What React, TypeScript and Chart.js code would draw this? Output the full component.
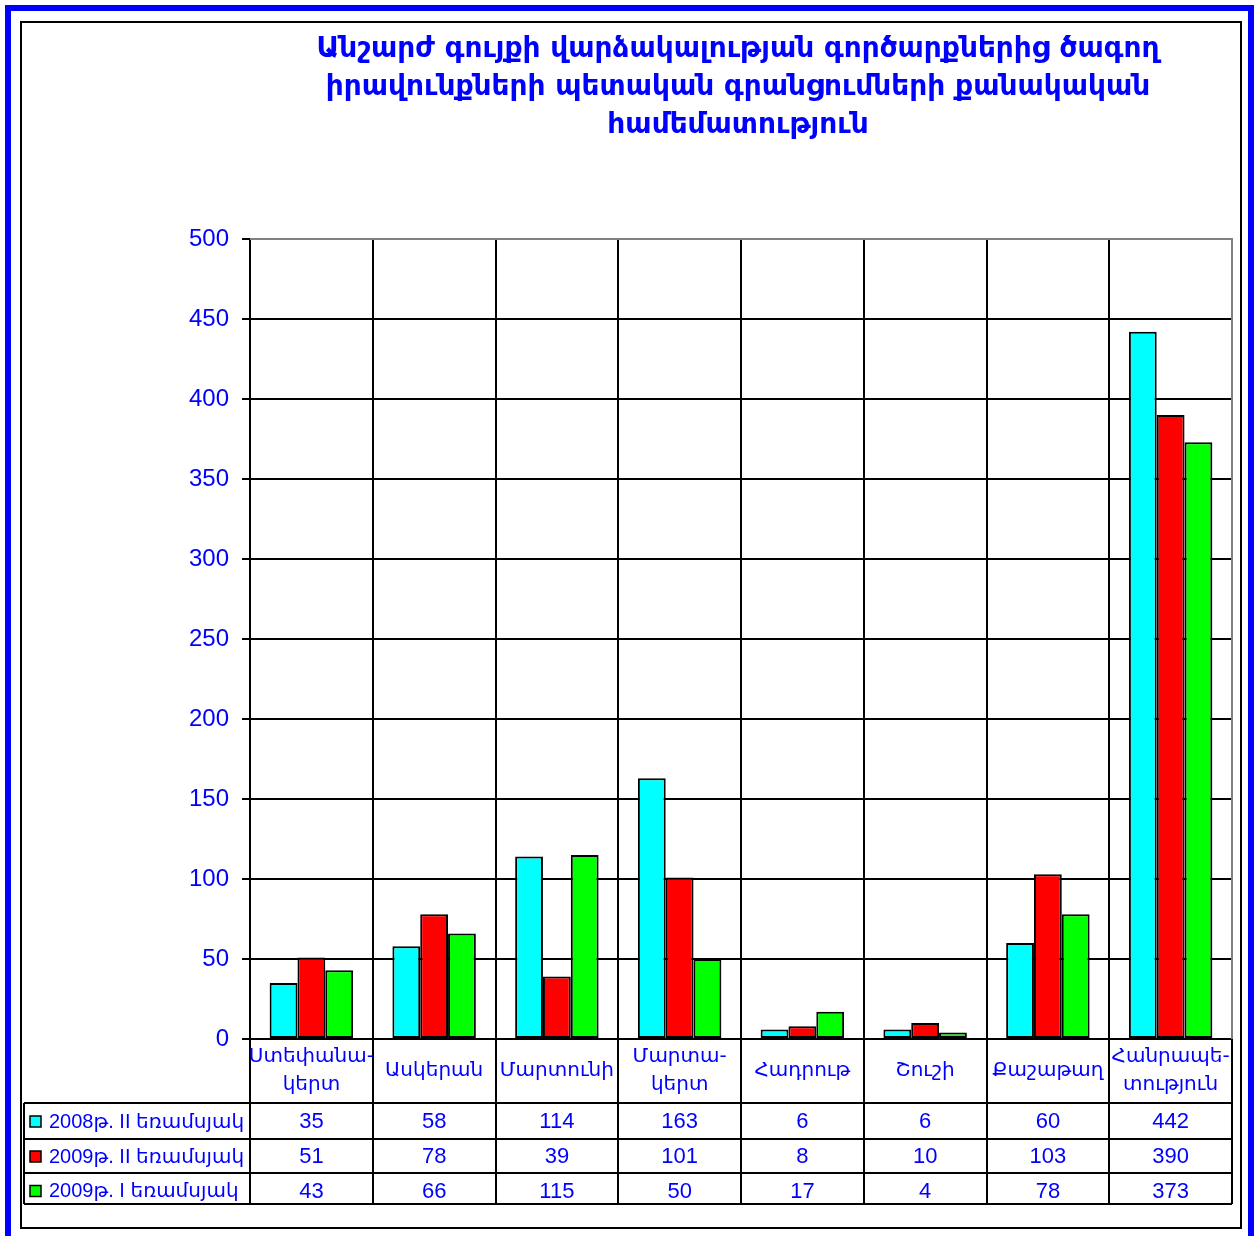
import React, { useEffect, useRef } from "react";
import { Chart, registerables } from "chart.js";

Chart.register(...registerables);

const titleLines = [
  "Անշարժ գույքի վարձակալության գործարքներից ծագող",
  "իրավունքների պետական գրանցումների քանակական",
  "համեմատություն",
];

const categories: string[][] = [
  ["Ստեփանա-", "կերտ"],
  ["Ասկերան"],
  ["Մարտունի"],
  ["Մարտա-", "կերտ"],
  ["Հադրութ"],
  ["Շուշի"],
  ["Քաշաթաղ"],
  ["Հանրապե-", "տություն"],
];

const seriesNames = ["2008թ. II եռամսյակ", "2009թ. II եռամսյակ", "2009թ. I եռամսյակ"];
const series2008Q2 = [35, 58, 114, 163, 6, 6, 60, 442];
const series2009Q2 = [51, 78, 39, 101, 8, 10, 103, 390];
const series2009Q1 = [43, 66, 115, 50, 17, 4, 78, 373];
const seriesColors = ["#00FFFF", "#FF0000", "#00FF00"];

const yMin = 0;
const yMax = 500;
const yStep = 50;

const BLUE = "#0000FF";
const FONT = "'Liberation Sans', 'DejaVu Sans', Arial, sans-serif";
const ARM_FONT = "'DejaVu Sans', 'Liberation Sans', sans-serif";

const W = 1258;
const H = 1236;

const framePlugin = {
  id: "framePlugin",
  afterDraw(chart: any) {
    const ctx = chart.ctx as CanvasRenderingContext2D;
    const xs = chart.scales.x;
    const area = chart.chartArea;
    const n = categories.length;
    const colW = (xs.right - xs.left) / n;
    const bounds: number[] = [];
    for (let i = 0; i <= n; i++) bounds.push(xs.left + i * colW);

    const labelTop = area.bottom;
    const tableTop = xs.bottom;
    const rowTops = [tableTop, tableTop + 36, tableTop + 70];
    const tableBottom = tableTop + 101;
    const tableLeft = 24;

    ctx.save();
    // outer blue frame
    ctx.strokeStyle = BLUE;
    ctx.lineWidth = 6;
    ctx.beginPath();
    ctx.moveTo(8, H + 10);
    ctx.lineTo(8, 8);
    ctx.lineTo(1251, 8);
    ctx.lineTo(1251, H + 10);
    ctx.stroke();

    // inner black frame
    ctx.strokeStyle = "#000";
    ctx.lineWidth = 2;
    ctx.strokeRect(21, 22, 1220, 1206);

    // title
    ctx.fillStyle = BLUE;
    ctx.font = "bold 28px " + ARM_FONT;
    ctx.textAlign = "center";
    ctx.textBaseline = "middle";
    titleLines.forEach((t, i) => ctx.fillText(t, 738, 50 + i * 38));

    // plot top/right gray border
    ctx.strokeStyle = "#808080";
    ctx.lineWidth = 2;
    ctx.beginPath();
    ctx.moveTo(area.left, area.top);
    ctx.lineTo(area.right, area.top);
    ctx.lineTo(area.right, area.bottom);
    ctx.stroke();

    // table grid
    ctx.strokeStyle = "#000";
    ctx.lineWidth = 2;
    ctx.beginPath();
    bounds.forEach((b) => {
      ctx.moveTo(Math.round(b), labelTop);
      ctx.lineTo(Math.round(b), tableBottom);
    });
    ctx.moveTo(tableLeft, tableTop);
    ctx.lineTo(tableLeft, tableBottom);
    [...rowTops, tableBottom].forEach((y) => {
      ctx.moveTo(tableLeft, y);
      ctx.lineTo(xs.right, y);
    });
    ctx.stroke();

    // category labels
    ctx.fillStyle = BLUE;
    ctx.font = "20px " + ARM_FONT;
    ctx.textAlign = "center";
    ctx.textBaseline = "middle";
    const labelMid = (labelTop + tableTop) / 2;
    categories.forEach((lines, i) => {
      const cx = (bounds[i] + bounds[i + 1]) / 2;
      const lh = 28;
      const y0 = labelMid - ((lines.length - 1) * lh) / 2;
      lines.forEach((l, j) => ctx.fillText(l, cx, y0 + j * lh));
    });

    // table rows
    const rows = [series2008Q2, series2009Q2, series2009Q1];
    const rowBottoms = [rowTops[1], rowTops[2], tableBottom];
    rows.forEach((vals, r) => {
      const cy = (rowTops[r] + rowBottoms[r]) / 2 + 1 + (r === 2 ? 2 : 0);
      // legend key
      ctx.fillStyle = seriesColors[r];
      ctx.fillRect(30, cy - 6, 11, 11);
      ctx.strokeStyle = "#000";
      ctx.lineWidth = 1.5;
      ctx.strokeRect(30, cy - 6, 11, 11);
      ctx.fillStyle = BLUE;
      ctx.textAlign = "left";
      ctx.font = "20px " + FONT;
      ctx.fillText(seriesNames[r], 49, cy);
      ctx.textAlign = "center";
      ctx.font = "22px " + FONT;
      vals.forEach((v, i) => {
        const cx = (bounds[i] + bounds[i + 1]) / 2;
        ctx.fillText(String(v), cx, cy);
      });
    });
    ctx.restore();
  },
};

export default function App() {
  const ref = useRef<HTMLCanvasElement | null>(null);

  useEffect(() => {
    if (!ref.current) return;
    const datasets = [series2008Q2, series2009Q2, series2009Q1].map((d, i) => ({
      label: seriesNames[i],
      data: d,
      backgroundColor: seriesColors[i],
      borderColor: "#000",
      borderWidth: 2,
      borderSkipped: false as any,
      categoryPercentage: 0.68,
      barPercentage: 1,
    }));
    const chart = new Chart(ref.current, {
      type: "bar",
      data: { labels: categories.map((c) => c.join("")), datasets },
      plugins: [framePlugin],
      options: {
        animation: false,
        responsive: false,
        devicePixelRatio: 1,
        layout: { padding: { top: 239, left: 0, right: 26, bottom: 133 } },
        plugins: { legend: { display: false }, title: { display: false }, tooltip: { enabled: false } },
        scales: {
          x: {
            grid: { offset: true, color: "#000", lineWidth: 2, drawTicks: false },
            border: { display: true, color: "#000", width: 2 },
            ticks: { display: false },
            afterFit: (s: any) => {
              s.height = 64;
            },
          },
          y: {
            min: yMin,
            max: yMax,
            ticks: {
              stepSize: yStep,
              color: BLUE,
              font: { family: FONT, size: 24 },
              padding: 13,
            },
            grid: {
              color: (c: any) => (c.tick && c.tick.value === yMax ? "#808080" : "#000"),
              lineWidth: 2,
              tickLength: 8,
              tickColor: "#000",
            },
            border: { display: true, color: "#000", width: 2 },
            afterFit: (s: any) => {
              s.width = 250;
            },
          },
        },
      },
    });
    return () => chart.destroy();
  }, []);

  return (
    <div style={{ position: "absolute", left: 0, top: 0, width: W, height: H, background: "#fff" }}>
      <canvas ref={ref} width={W} height={H} style={{ width: W, height: H, display: "block" }} />
    </div>
  );
}
